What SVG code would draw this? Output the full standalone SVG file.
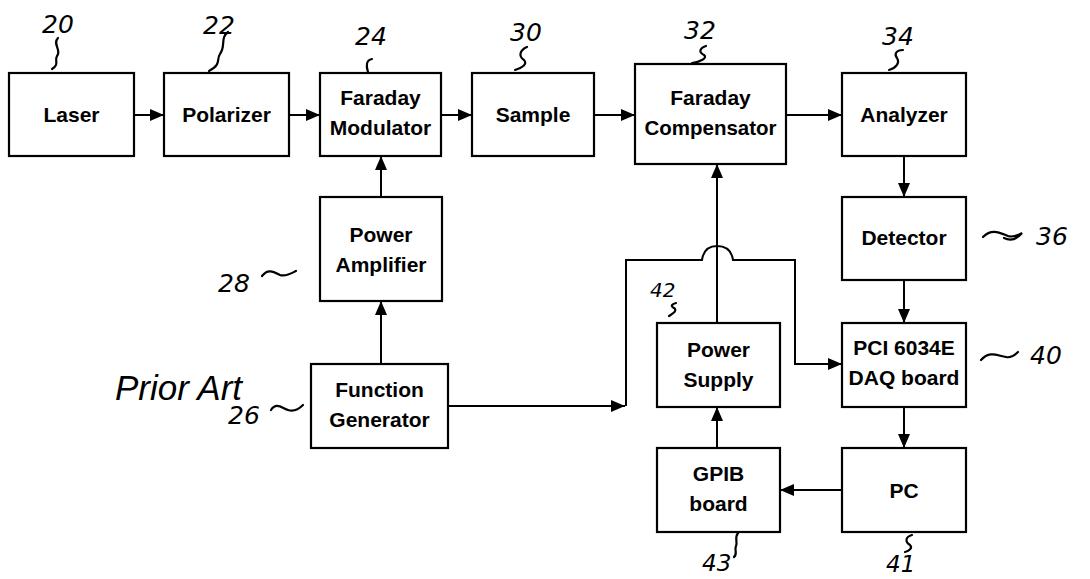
<svg xmlns="http://www.w3.org/2000/svg" width="1090" height="579" viewBox="0 0 1090 579">
<style>
.box{fill:#fff;stroke:#000;stroke-width:2.2}
.t{font-family:"Liberation Sans",Arial,sans-serif;font-weight:bold;font-size:21px;text-anchor:middle;fill:#000}
.w{fill:none;stroke:#000;stroke-width:2}
.h{font-family:"DejaVu Sans","Liberation Sans",sans-serif;font-style:italic;font-size:25px;fill:#000}
.s{fill:none;stroke:#000;stroke-width:2.2;stroke-linecap:round}
</style>
<defs>
<marker id="b" viewBox="0 0 14 12" refX="14" refY="6" markerWidth="14" markerHeight="12" markerUnits="userSpaceOnUse" orient="auto"><path d="M0,0 L14,6 L0,12 z" fill="#000"/></marker>
</defs>
<g id="connectors">
<line class="w" x1="134" y1="115" x2="164" y2="115" marker-end="url(#b)"/>
<line class="w" x1="289" y1="115" x2="320" y2="115" marker-end="url(#b)"/>
<line class="w" x1="441" y1="115" x2="472" y2="115" marker-end="url(#b)"/>
<line class="w" x1="594" y1="115" x2="635" y2="115" marker-end="url(#b)"/>
<line class="w" x1="786" y1="115" x2="842" y2="115" marker-end="url(#b)"/>
<line class="w" x1="381" y1="197" x2="381" y2="156" marker-end="url(#b)"/>
<line class="w" x1="381" y1="364" x2="381" y2="301" marker-end="url(#b)"/>
<line class="w" x1="448" y1="406" x2="625" y2="406" marker-end="url(#b)"/>
<path class="w" d="M626,406 L626,260 L702,260 Q704,246 717,246 Q731,246 733,260 L795,260 L795,364 L842,364" marker-end="url(#b)"/>
<line class="w" x1="717" y1="323" x2="717" y2="164" marker-end="url(#b)"/>
<line class="w" x1="904" y1="156" x2="904" y2="197" marker-end="url(#b)"/>
<line class="w" x1="904" y1="280" x2="904" y2="323" marker-end="url(#b)"/>
<line class="w" x1="904" y1="407" x2="904" y2="448" marker-end="url(#b)"/>
<line class="w" x1="842" y1="490" x2="780" y2="490" marker-end="url(#b)"/>
<line class="w" x1="717" y1="448" x2="717" y2="407" marker-end="url(#b)"/>
</g>
<g id="laser"><rect class="box" x="9" y="73" width="125" height="83"/><text class="t" x="71.5" y="122">Laser</text>
<text class="h" x="42" y="33">20</text><path class="s" d="M58,38 C52,44 62,50 57,56 C54,61 60,64 52,69"/></g>
<g id="polarizer"><rect class="box" x="164" y="73" width="125" height="83"/><text class="t" x="226.5" y="122">Polarizer</text>
<text class="h" x="203" y="34">22</text><path class="s" d="M228,32 C220,38 226,46 220,54 C216,60 222,64 209,71"/></g>
<g id="faraday-modulator"><rect class="box" x="320" y="73" width="121" height="83"/><text class="t" x="380.5" y="105">Faraday</text><text class="t" x="380.5" y="135">Modulator</text>
<text class="h" x="355" y="45">24</text><path class="s" d="M372,59 C366,60 366,66 368,72"/></g>
<g id="sample"><rect class="box" x="472" y="73" width="122" height="83"/><text class="t" x="533" y="122">Sample</text>
<text class="h" x="510" y="41">30</text><path class="s" d="M527,47 C520,50 518,56 524,60 C528,64 522,68 515,70"/></g>
<g id="faraday-compensator"><rect class="box" x="635" y="64" width="151" height="100"/><text class="t" x="710.5" y="105">Faraday</text><text class="t" x="710.5" y="135" textLength="132" lengthAdjust="spacingAndGlyphs">Compensator</text>
<text class="h" x="684" y="39">32</text><path class="s" d="M706,46 C700,48 698,52 704,55 C708,58 700,62 692,63"/></g>
<g id="analyzer"><rect class="box" x="842" y="73" width="124" height="83"/><text class="t" x="904" y="122">Analyzer</text>
<text class="h" x="882" y="45">34</text><path class="s" d="M903,50 C896,50 894,54 897,58 C900,63 896,68 889,70"/></g>
<g id="detector"><rect class="box" x="842" y="197" width="124" height="83"/><text class="t" x="904" y="245">Detector</text>
<path class="s" d="M983,237 C992,228 1000,233 1008,236 C1014,238 1020,234 1022,233 C1016,240 1010,241 1004,238"/><text class="h" x="1036" y="245">36</text></g>
<g id="pci-daq"><rect class="box" x="842" y="323" width="124" height="84"/><text class="t" x="904" y="355">PCI 6034E</text><text class="t" x="904" y="385">DAQ board</text>
<path class="s" d="M981,360 C990,350 998,356 1006,357 C1010,358 1015,355 1018,352"/><text class="h" x="1030" y="364">40</text></g>
<g id="power-amplifier"><rect class="box" x="320" y="197" width="122" height="104"/><text class="t" x="381" y="242">Power</text><text class="t" x="381" y="272">Amplifier</text>
<text class="h" x="218" y="292">28</text><path class="s" d="M262,276 C268,268 274,272 280,275 C286,277 292,273 296,271"/></g>
<g id="function-generator"><rect class="box" x="311" y="364" width="137" height="84"/><text class="t" x="379.5" y="397">Function</text><text class="t" x="379.5" y="427">Generator</text>
<text class="h" x="228" y="424">26</text><path class="s" d="M271,410 C276,402 282,408 288,410 C294,412 300,408 303,405"/></g>
<g id="power-supply"><rect class="box" x="657" y="323" width="123" height="84"/><text class="t" x="718.5" y="357">Power</text><text class="t" x="718.5" y="387">Supply</text>
<text class="h" x="650" y="297" style="font-size:20px">42</text><path class="s" d="M676,303 C672,304 670,306 674,308 C678,311 672,314 669,316"/></g>
<g id="gpib-board"><rect class="box" x="657" y="448" width="123" height="84"/><text class="t" x="718.5" y="481">GPIB</text><text class="t" x="718.5" y="511">board</text>
<path class="s" d="M738,533 C734,538 738,542 736,546 C734,550 738,554 734,557"/><text class="h" x="702" y="571" style="font-size:23px">43</text></g>
<g id="pc"><rect class="box" x="842" y="448" width="124" height="84"/><text class="t" x="904" y="498">PC</text>
<path class="s" d="M912,535 C905,537 905,542 910,545 C913,548 909,551 905,552"/><text class="h" x="886" y="572" style="font-size:23px">41</text></g>
<text x="115" y="400" style="font-family:'Liberation Sans',Arial,sans-serif;font-style:italic;font-size:35px;fill:#000">Prior Art</text>
</svg>
